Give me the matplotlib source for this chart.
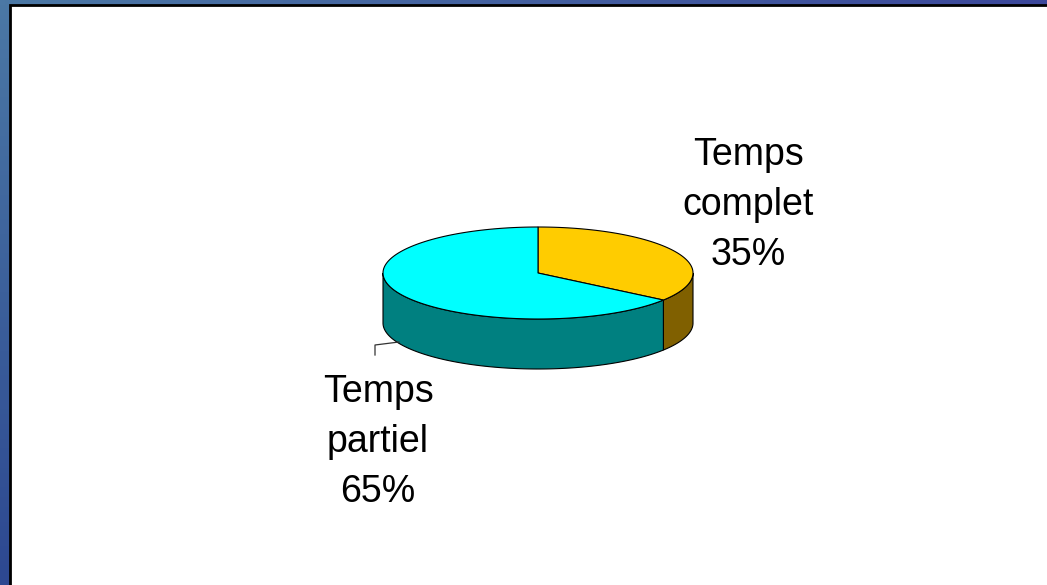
import numpy as np
import matplotlib
matplotlib.use("Agg")
import matplotlib.pyplot as plt
from matplotlib.patches import Polygon, Rectangle
from matplotlib.lines import Line2D

# ---- data ----
categories = ["Temps complet", "Temps partiel"]
values = [35, 65]
top_colors = ["#FFCC00", "#00FFFF"]
side_colors = ["#806000", "#008080"]
labels = ["Temps\ncomplet\n35%", "Temps\npartiel\n65%"]

W, H = 1047, 585
fig = plt.figure(figsize=(W / 100, H / 100), dpi=100)
ax = fig.add_axes([0, 0, 1, 1])
ax.set_xlim(0, W)
ax.set_ylim(H, 0)
ax.axis("off")

# background gradient (slide)
tl = np.array([75, 120, 165]) / 255
tr = np.array([60, 72, 155]) / 255
bl = np.array([45, 72, 145]) / 255
br = np.array([50, 60, 140]) / 255
u = np.linspace(0, 1, 200)[None, :, None]
v = np.linspace(0, 1, 120)[:, None, None]
grad = (1 - u) * (1 - v) * tl + u * (1 - v) * tr + (1 - u) * v * bl + u * v * br
ax.imshow(grad, extent=[0, W, H, 0], aspect="auto", zorder=0)

# white panel with black frame
ax.add_patch(Rectangle((10, 5), W, H, facecolor="white", edgecolor="black",
                       lw=2, zorder=1))

# ---- 3D pie ----
cx, cy, rx, ry, depth = 538, 273, 155, 46, 50


def pt(theta_deg, dy=0.0):
    t = np.radians(theta_deg)
    return cx + rx * np.cos(t), cy - ry * np.sin(t) + dy


total = float(sum(values))
start = 90.0
spans = []
for val in values:
    ang = 360.0 * val / total
    spans.append((start - ang, start))  # clockwise from start
    start -= ang

# side walls (front half: math angles 180..360)
for (a0, a1), sc in zip(spans, side_colors):
    # normalise into [180, 540)
    b0 = a0 % 360
    b1 = b0 + (a1 - a0)
    for off in (0, 360, -360):
        lo = max(b0 + off, 180)
        hi = min(b1 + off, 360)
        if hi > lo:
            th = np.linspace(lo, hi, 120)
            xs, ys = pt(th)
            top = np.column_stack([xs, ys])
            bot = np.column_stack([xs[::-1], ys[::-1] + depth])
            ax.add_patch(Polygon(np.vstack([top, bot]), closed=True,
                                 facecolor=sc, edgecolor="black", lw=0.8,
                                 zorder=3))

# tops
for (a0, a1), tc in zip(spans, top_colors):
    th = np.linspace(a0, a1, 200)
    xs, ys = pt(th)
    poly = np.vstack([[cx, cy], np.column_stack([xs, ys])])
    ax.add_patch(Polygon(poly, closed=True, facecolor=tc, edgecolor="black",
                         lw=0.8, zorder=4))

# leader line for "Temps partiel"
ax.add_line(Line2D([375, 375, 399], [355, 345, 342], color="#333333",
                   lw=0.9, zorder=5))

# labels
font = dict(family=["Liberation Sans", "DejaVu Sans"], fontsize=27,
            color="black", ha="center", va="baseline", zorder=6)
label_pos = [(748, 165), (378, 402)]
for lab, (lx, ly) in zip(labels, label_pos):
    for i, line in enumerate(lab.split("\n")):
        ax.text(lx, ly + 50 * i, line, **font)

fig.savefig("out.png", dpi=100)
